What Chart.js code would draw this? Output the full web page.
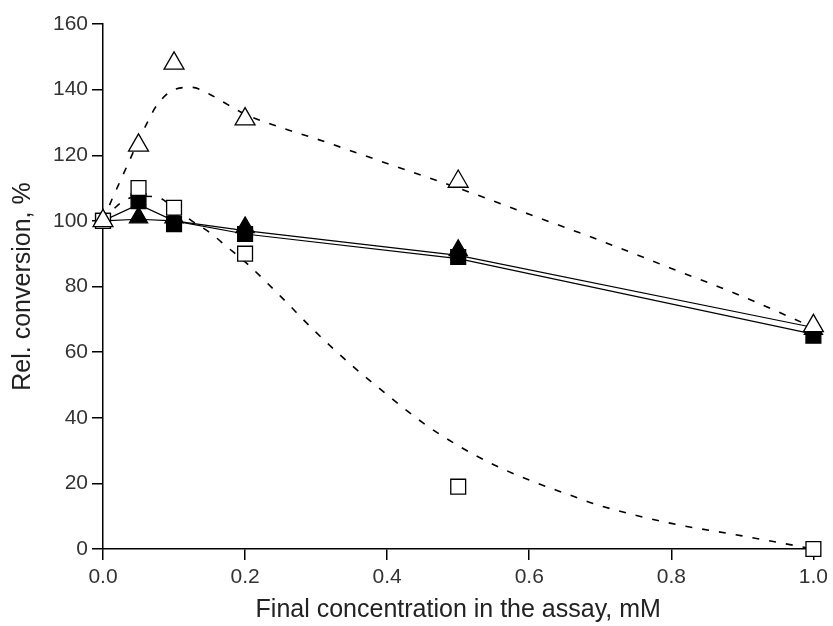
<!DOCTYPE html>
<html>
<head>
<meta charset="utf-8">
<script src="https://cdn.jsdelivr.net/npm/chart.js@4.4.0/dist/chart.umd.min.js"></script>
<style>
  html, body { margin: 0; padding: 0; background: #fff; }
  #chart { display: block; }
</style>
</head>
<body>
<canvas id="chart" width="833" height="626"></canvas>
<script>
// measured points (x = final concentration, mM ; y = rel. conversion, %)
var concX = [0, 0.05, 0.1, 0.2, 0.5, 1.0];
var openTriangle = [100, 123, 148, 131, 112, 68];
var openSquare = [100, 110, 104, 90, 19, 0];
var filledSquare = [100, 106, 99, 96, 89, 65];
var filledTriangle = [100, 101, 101, 98, 91, 67];

// dashed fit curves
var fitTriX = [0, 0.0125, 0.025, 0.0375, 0.05, 0.0625, 0.075, 0.1, 0.125, 0.15, 0.175, 0.2, 0.25, 0.3, 0.4, 0.5, 0.6, 0.7, 0.8, 0.9, 1.0];
var fitTriY = [100, 106.5, 112.5, 118.5, 124.5, 130, 135, 140, 140.7, 138.6, 135.5, 132.5, 128.5, 125, 117.5, 110, 102, 94, 85.5, 77, 67.5];

var fitSqX = [0, 0.025, 0.05, 0.075, 0.1, 0.125, 0.15, 0.175, 0.2, 0.25, 0.3, 0.35, 0.4, 0.45, 0.5, 0.55, 0.6, 0.65, 0.7, 0.8, 0.9, 1.0];
var fitSqY = [100, 105.5, 107.5, 107.3, 104, 100, 96.5, 92, 87.5, 77, 66, 56, 47, 38.5, 31.5, 25.7, 21, 17, 13.2, 7.8, 4, 0];

// solid lines for the filled symbols
var lineSqY = [100, 105, 100, 96, 88.5, 65.5];
var lineTriY = [100, 100.5, 100, 97, 89.5, 67.5];

function toPoints(xs, ys) {
    var pts = [];
    for (var i = 0; i < xs.length; i++) {
        pts.push({ x: xs[i], y: ys[i] });
    }
    return pts;
}

function markerSet(values, style, filled, radius) {
    return {
        data: toPoints(concX, values),
        showLine: false,
        pointStyle: style,
        pointRadius: radius,
        pointBackgroundColor: filled ? '#000000' : '#ffffff',
        pointBorderColor: '#000000',
        pointBorderWidth: 1.3,
        clip: false
    };
}

function lineSet(xs, ys, dashed) {
    return {
        data: toPoints(xs, ys),
        showLine: true,
        borderColor: '#000000',
        borderWidth: dashed ? 1.6 : 1.2,
        borderDash: dashed ? [7, 10] : [],
        cubicInterpolationMode: dashed ? 'monotone' : 'default',
        tension: 0,
        pointRadius: 0,
        fill: false,
        clip: false
    };
}

var fontFamily = "'Liberation Sans', Arial, sans-serif";

var ctx = document.getElementById('chart').getContext('2d');

var chart = new Chart(ctx, {
    type: 'scatter',
    data: {
        datasets: [
            // markers first so they sit on top
            markerSet(openTriangle, 'triangle', false, 11.5),
            markerSet(openSquare, 'rect', false, 10.5),
            markerSet(filledTriangle, 'triangle', true, 10.5),
            markerSet(filledSquare, 'rect', true, 10.5),
            lineSet(concX, lineSqY, false),
            lineSet(concX, lineTriY, false),
            lineSet(fitTriX, fitTriY, true),
            lineSet(fitSqX, fitSqY, true)
        ]
    },
    options: {
        responsive: false,
        animation: false,
        layout: {
            padding: { top: 24, right: 17, left: 0, bottom: 0 }
        },
        scales: {
            x: {
                type: 'linear',
                min: 0,
                max: 1,
                border: { display: true, color: '#000000', width: 1.5 },
                grid: {
                    drawOnChartArea: false,
                    drawTicks: true,
                    tickLength: 11,
                    color: '#000000',
                    lineWidth: 1.5
                },
                ticks: {
                    stepSize: 0.2,
                    padding: 5,
                    color: '#333333',
                    font: { family: fontFamily, size: 21 },
                    callback: function (value) {
                        return value.toFixed(1);
                    }
                },
                title: {
                    display: true,
                    text: 'Final concentration in the assay, mM',
                    color: '#222222',
                    font: { family: fontFamily, size: 25 },
                    padding: { top: 0, bottom: 1 }
                },
                afterFit: function (scale) {
                    scale.height = 77;
                }
            },
            y: {
                type: 'linear',
                min: 0,
                max: 160,
                border: { display: true, color: '#000000', width: 1.5 },
                grid: {
                    drawOnChartArea: false,
                    drawTicks: true,
                    tickLength: 11,
                    color: '#000000',
                    lineWidth: 1.5
                },
                ticks: {
                    stepSize: 20,
                    padding: 4,
                    color: '#333333',
                    font: { family: fontFamily, size: 21 }
                },
                title: {
                    display: true,
                    text: 'Rel. conversion, %',
                    color: '#222222',
                    font: { family: fontFamily, size: 25 },
                    padding: { top: 8, bottom: 0 }
                },
                afterFit: function (scale) {
                    scale.width = 103;
                }
            }
        },
        plugins: {
            legend: { display: false },
            tooltip: { enabled: false }
        }
    }
});
</script>
</body>
</html>
